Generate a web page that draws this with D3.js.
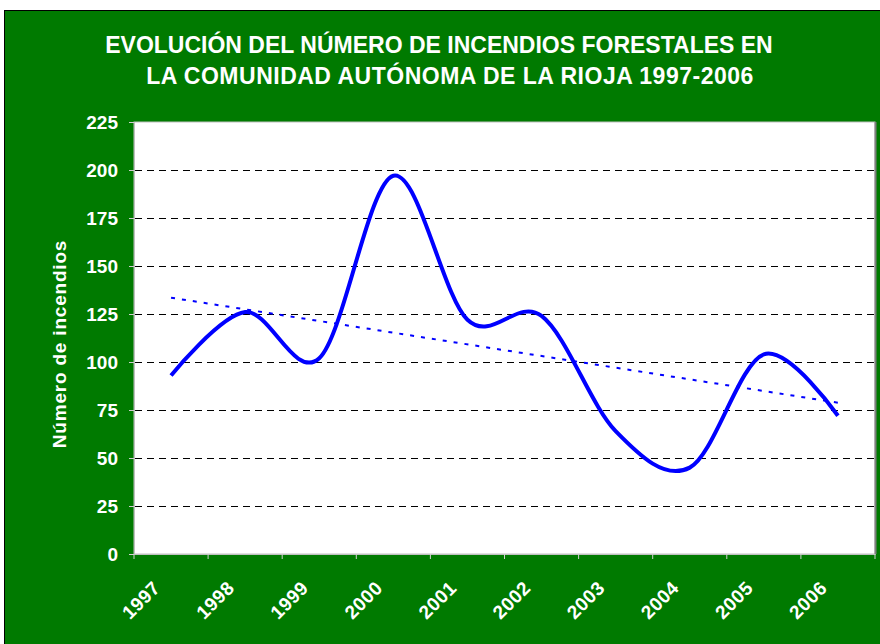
<!DOCTYPE html>
<meta charset="utf-8">
<script src="https://d3js.org/d3.v7.min.js"></script>
<style>
  body { margin: 0; background: #fff; }
  text { font-family: Arial, "Liberation Sans", sans-serif; font-weight: bold; fill: #fff; }
</style>
<svg id="chart" width="880" height="644"></svg>
<script>
// data
const years = ["1997","1998","1999","2000","2001","2002","2003","2004","2005","2006"];
const fires = [93, 126, 102, 197, 122, 124, 64, 45, 104, 72];
// trend line ends (first and last year)
const trend = [133.5, 78.8];
const yTicks = [0, 25, 50, 75, 100, 125, 150, 175, 200, 225];
const titleLines = ["EVOLUCIÓN DEL NÚMERO DE INCENDIOS FORESTALES EN",
                    "LA COMUNIDAD AUTÓNOMA DE LA RIOJA 1997-2006"];

const svg = d3.select("#chart");
const pLeft = 134, pRight = 875, pTop = 122, pBottom = 554;

// green background
svg.append("rect")
  .attr("x", 4.5).attr("y", 10.5)
  .attr("width", 880).attr("height", 640)
  .attr("fill", "#007a00")
  .attr("stroke", "#000");

// title
svg.selectAll(".title")
  .data(titleLines)
  .join("text")
  .attr("class", "title")
  .attr("x", (d, i) => i === 0 ? 439 : 450)
  .attr("y", (d, i) => 53 + i * 31)
  .attr("text-anchor", "middle")
  .style("font-size", "23px")
  .style("letter-spacing", (d, i) => i === 0 ? "0px" : "0.5px")
  .text(d => d);

const x = d3.scaleBand().domain(years).range([pLeft, pRight]).padding(0);
const y = d3.scaleLinear().domain([0, 225]).range([pBottom, pTop]);

// plot area
svg.append("rect")
  .attr("x", pLeft).attr("y", pTop)
  .attr("width", pRight - pLeft).attr("height", pBottom - pTop)
  .attr("fill", "#fff")
  .attr("stroke", "#c0c0c0");
svg.append("line")
  .attr("x1", pRight + 0.5).attr("x2", pRight + 0.5)
  .attr("y1", pTop).attr("y2", pBottom)
  .attr("stroke", "#808080").attr("stroke-width", 2);

// gridlines
svg.selectAll(".grid")
  .data(yTicks.filter(d => d > 0 && d < 225))
  .join("line")
  .attr("x1", pLeft + 1).attr("x2", pRight)
  .attr("y1", d => Math.round(y(d)) + 0.5)
  .attr("y2", d => Math.round(y(d)) + 0.5)
  .attr("stroke", "#000")
  .attr("stroke-dasharray", "7,5");

// y axis
const yAxis = svg.append("g")
  .attr("transform", `translate(${pLeft},0)`)
  .call(d3.axisLeft(y).tickValues(yTicks).tickSize(5).tickPadding(11));
yAxis.select(".domain").attr("stroke", "#c0c0c0");
yAxis.selectAll(".tick line").attr("stroke", "#d0d0d0");
yAxis.selectAll(".tick text")
  .style("font-size", "19px")
  .attr("fill", "#fff");

// x axis
const xAxis = svg.append("g")
  .attr("transform", `translate(0,${pBottom})`)
  .call(d3.axisBottom(x).tickSize(0).tickFormat(""));
xAxis.select(".domain").attr("stroke", "#c0c0c0");
svg.selectAll(".xtick")
  .data(d3.range(years.length + 1))
  .join("line")
  .attr("x1", i => pLeft + i * x.step())
  .attr("x2", i => pLeft + i * x.step())
  .attr("y1", pBottom).attr("y2", pBottom + 5)
  .attr("stroke", "#d0d0d0");
svg.selectAll(".xlabel")
  .data(years)
  .join("text")
  .attr("class", "xlabel")
  .attr("transform", d => `translate(${x(d) + x.bandwidth() / 2 - 30},600) rotate(-45)`)
  .attr("text-anchor", "middle")
  .attr("dy", "0.35em")
  .style("font-size", "19px")
  .style("letter-spacing", "0.5px")
  .text(d => d);

// y axis title
svg.append("text")
  .attr("transform", "translate(66,344) rotate(-90)")
  .attr("text-anchor", "middle")
  .style("font-size", "19px")
  .style("letter-spacing", "0.8px")
  .text("Número de incendios");

// trend line
const cx = d => x(d) + x.bandwidth() / 2;
svg.append("line")
  .attr("x1", cx(years[0])).attr("y1", y(trend[0]))
  .attr("x2", cx(years[years.length - 1])).attr("y2", y(trend[1]))
  .attr("stroke", "#0000ff")
  .attr("stroke-width", 2)
  .attr("stroke-dasharray", "4,7");

// data line
const line = d3.line()
  .x((d, i) => cx(years[i]))
  .y(d => y(d))
  .curve(d3.curveCardinal.tension(0));
svg.append("path")
  .datum(fires)
  .attr("d", line)
  .attr("fill", "none")
  .attr("stroke", "#0000ff")
  .attr("stroke-width", 4)
  .attr("stroke-linejoin", "round");
</script>
